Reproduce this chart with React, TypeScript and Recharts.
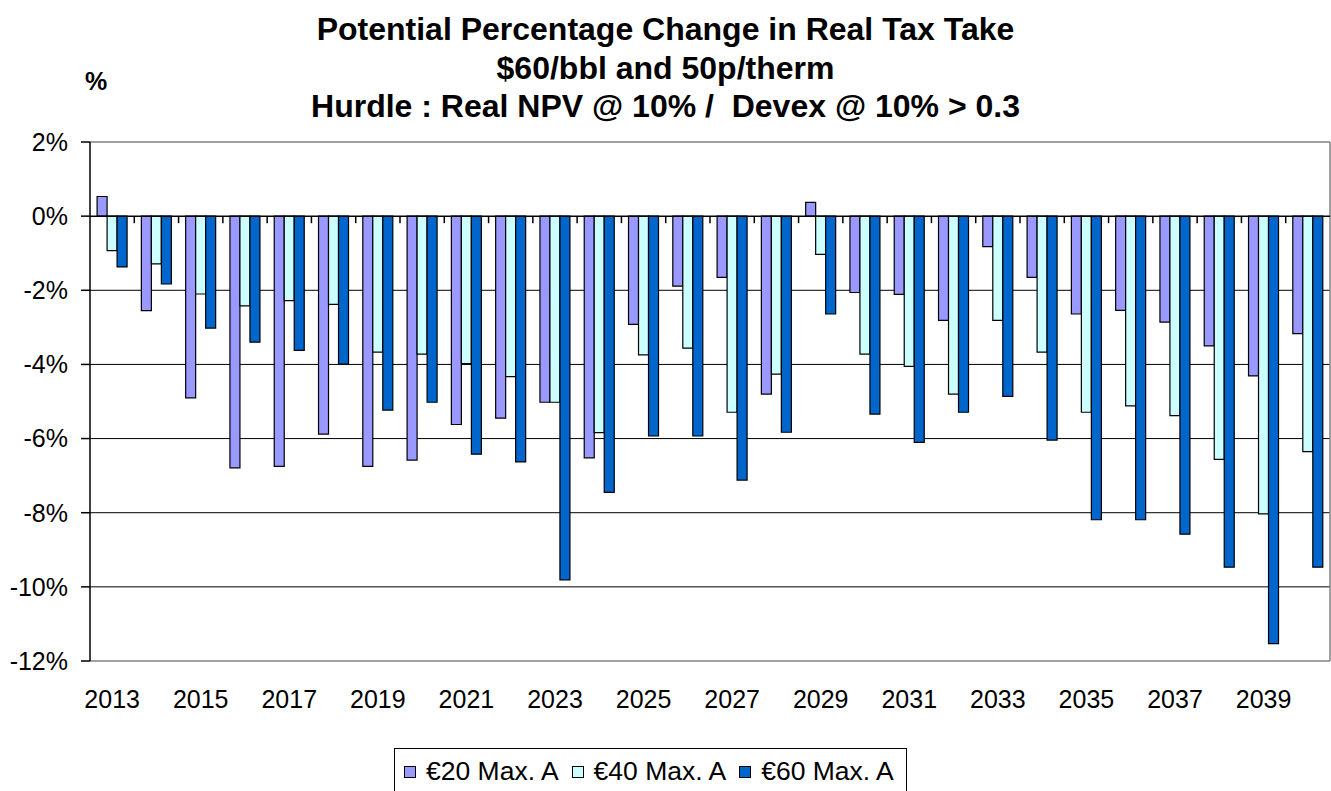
import * as React from "react";
import {
  BarChart,
  Bar,
  XAxis,
  YAxis,
  CartesianGrid,
  ReferenceLine,
} from "recharts";

const years = [
  "2013", "2014", "2015", "2016", "2017", "2018", "2019", "2020", "2021", "2022",
  "2023", "2024", "2025", "2026", "2027", "2028", "2029", "2030", "2031", "2032",
  "2033", "2034", "2035", "2036", "2037", "2038", "2039", "2040",
];

const max20 = [
  0.53, -2.55, -4.9, -6.79, -6.75, -5.88, -6.75, -6.58, -5.62, -5.45,
  -5.02, -6.52, -2.92, -1.89, -1.65, -4.8, 0.37, -2.06, -2.11, -2.81,
  -0.82, -1.65, -2.64, -2.54, -2.86, -3.5, -4.31, -3.17,
];

const max40 = [
  -0.93, -1.29, -2.1, -2.42, -2.28, -2.38, -3.67, -3.72, -3.98, -4.33,
  -5.02, -5.84, -3.74, -3.56, -5.29, -4.26, -1.03, -3.72, -4.05, -4.8,
  -2.81, -3.67, -5.29, -5.12, -5.38, -6.56, -8.03, -6.35,
];

const max60 = [
  -1.37, -1.83, -3.02, -3.4, -3.62, -3.99, -5.23, -5.02, -6.42, -6.63,
  -9.81, -7.45, -5.93, -5.93, -7.12, -5.83, -2.64, -5.34, -6.1, -5.29,
  -4.86, -6.04, -8.19, -8.19, -8.58, -9.47, -11.53, -9.47,
];

const yTicks = [-12, -10, -8, -6, -4, -2, 0, 2];
const innerGrid = [-10, -8, -6, -4, -2];

const series = [
  { key: "max20", name: "€20 Max. A", color: "#9999FF" },
  { key: "max40", name: "€40 Max. A", color: "#CCFFFF" },
  { key: "max60", name: "€60 Max. A", color: "#0066CC" },
];

const titleLines = [
  "Potential Percentage Change in Real Tax Take",
  "$60/bbl and 50p/therm",
  "Hurdle : Real NPV @ 10% /  Devex @ 10% > 0.3",
];

const chartData = years.map((year, i) => ({
  year,
  max20: max20[i],
  max40: max40[i],
  max60: max60[i],
}));

const FONT = '"Liberation Sans", Arial, sans-serif';

const App = () => {
  return (
    <div
      style={{
        position: "absolute",
        left: 0,
        top: 0,
        width: 1331,
        height: 791,
        background: "#fff",
        fontFamily: FONT,
        overflow: "hidden",
      }}
    >
      {/* title */}
      <div
        style={{
          position: "absolute",
          left: 0,
          top: 10,
          width: 1331,
          textAlign: "center",
          fontWeight: "bold",
          fontSize: 32,
          lineHeight: "38.5px",
          whiteSpace: "pre",
          color: "#000",
        }}
      >
        {titleLines.map((t) => (
          <div key={t}>{t}</div>
        ))}
      </div>
      <div
        style={{
          position: "absolute",
          left: 85,
          top: 67,
          fontWeight: "bold",
          fontSize: 25,
          color: "#000",
        }}
      >
        %
      </div>

      <BarChart
        width={1331}
        height={791}
        data={chartData}
        margin={{ top: 142, right: 1, bottom: 70, left: 0 }}
        barCategoryGap="16%"
        barGap={0}
      >
        <CartesianGrid
          stroke="#000"
          vertical={false}
          horizontalValues={innerGrid}
        />
        <CartesianGrid
          stroke="#808080"
          strokeWidth={1.5}
          horizontalValues={[2, -12]}
          verticalCoordinatesGenerator={(p: any) => [
            p.offset.left + p.offset.width,
          ]}
        />
        <XAxis
          dataKey="year"
          interval={1}
          tickLine={false}
          axisLine={false}
          tickSize={0}
          tickMargin={29}
          height={60}
          tick={{ fill: "#000", fontSize: 25, fontFamily: FONT }}
        />
        <YAxis
          width={90}
          domain={[-12, 2]}
          ticks={yTicks}
          interval={0}
          allowDataOverflow
          tickFormatter={(v: number) => `${v}%`}
          axisLine={{ stroke: "#000", strokeWidth: 1.5 }}
          tickLine={{ stroke: "#000", strokeWidth: 1.5 }}
          tickSize={9}
          tickMargin={13}
          tick={{ fill: "#000", fontSize: 25, fontFamily: FONT }}
        />
        {series.map((s) => (
          <Bar
            key={s.key}
            dataKey={s.key}
            name={s.name}
            fill={s.color}
            stroke="#000"
            strokeWidth={1.2}
            isAnimationActive={false}
          />
        ))}
        <ReferenceLine y={0} stroke="#000" strokeWidth={1.5} />
        {years.slice(1).map((yr) => (
          <ReferenceLine
            key={"t" + yr}
            segment={[
              { x: yr, y: 0 },
              { x: yr, y: -0.19 },
            ]}
            position="start"
            stroke="#000"
            strokeWidth={1.5}
          />
        ))}
      </BarChart>

      {/* legend */}
      <div
        style={{
          position: "absolute",
          left: 394,
          top: 748,
          width: 513,
          height: 60,
          boxSizing: "border-box",
          border: "1.5px solid #000",
          display: "flex",
          alignItems: "flex-start",
          paddingLeft: 9,
          paddingTop: 7,
          fontSize: 26.5,
          color: "#000",
          whiteSpace: "nowrap",
        }}
      >
        {series.map((s) => (
          <div
            key={s.key}
            style={{ display: "flex", alignItems: "center", marginRight: 13 }}
          >
            <span
              style={{
                display: "inline-block",
                width: 10,
                height: 10,
                background: s.color,
                border: "1px solid #000",
                marginRight: 10,
              }}
            />
            <span>{s.name}</span>
          </div>
        ))}
      </div>
    </div>
  );
};

export default App;
